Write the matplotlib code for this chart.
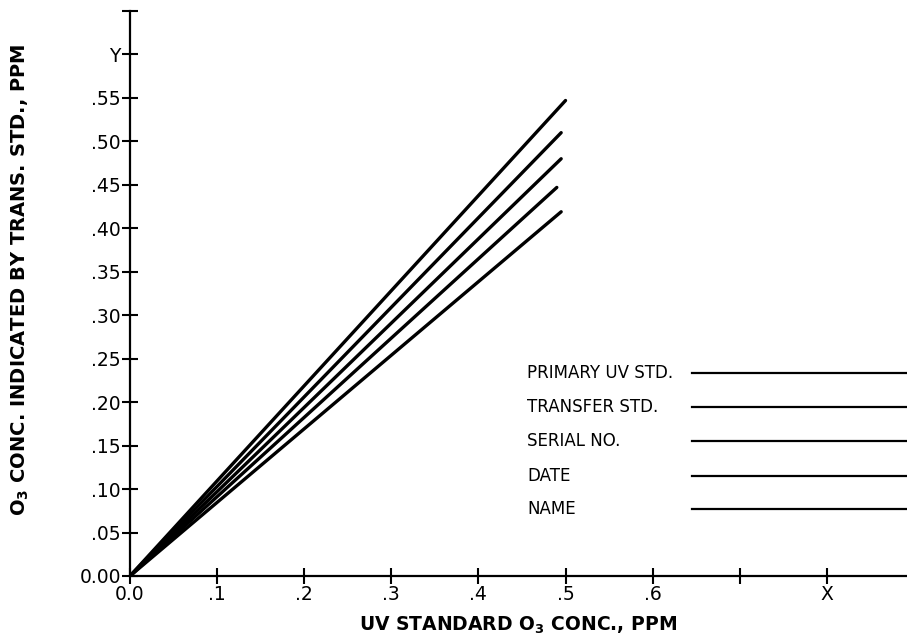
import matplotlib
matplotlib.use("Agg")
import matplotlib.pyplot as plt
import numpy as np

# calibration lines: (end x, end y) of each line from the origin
line_end_x = [0.500, 0.495, 0.495, 0.490, 0.495]
line_end_y = [0.547, 0.510, 0.480, 0.447, 0.419]

# x axis ticks
x_ticks = [0.0, 0.1, 0.2, 0.3, 0.4, 0.5, 0.6, 0.7, 0.8]
x_labels = ["0.0", ".1", ".2", ".3", ".4", ".5", ".6", "", "X"]

# y axis ticks
y_ticks = [0.00, 0.05, 0.10, 0.15, 0.20, 0.25, 0.30, 0.35, 0.40, 0.45, 0.50, 0.55, 0.60, 0.65]
y_labels = ["0.00", ".05", ".10", ".15", ".20", ".25", ".30", ".35", ".40", ".45",
            ".50", ".55", "Y", ""]

# form fields
field_names = ["PRIMARY UV STD.", "TRANSFER STD.", "SERIAL NO.", "DATE", "NAME"]
field_y = [0.233, 0.194, 0.155, 0.1155, 0.077]

fig = plt.figure(figsize=(9.07, 6.38), dpi=100)
ax = fig.add_axes([0.1433, 0.0972, 0.8567, 0.8856])

for ex, ey in zip(line_end_x, line_end_y):
    ax.plot([0, ex], [0, ey], color="black", linewidth=2.4, solid_capstyle="round")

for name, fy in zip(field_names, field_y):
    ax.text(0.456, fy, name, fontsize=12, va="center", ha="left")
    ax.plot([0.645, 0.892], [fy, fy], color="black", linewidth=1.6, clip_on=False)

ax.set_xlim(0, 0.892)
ax.set_ylim(0, 0.65)
ax.set_xticks(x_ticks)
ax.set_xticklabels(x_labels)
ax.set_yticks(y_ticks)
ax.set_yticklabels(y_labels)
ax.tick_params(direction="inout", length=11, width=1.5, labelsize=13.5, pad=1)

for side in ["top", "right"]:
    ax.spines[side].set_visible(False)
for side in ["left", "bottom"]:
    ax.spines[side].set_linewidth(1.6)

ax.set_xlabel(r"UV STANDARD O$_\mathbf{3}$ CONC., PPM", fontsize=13.5, fontweight="bold")
ax.xaxis.set_label_coords(0.5, -0.069)
ax.set_ylabel(r"O$_\mathbf{3}$ CONC. INDICATED BY TRANS. STD., PPM", fontsize=14,
              fontweight="bold")
ax.yaxis.set_label_coords(-0.127, 0.524)

fig.savefig("out.png", dpi=100)
